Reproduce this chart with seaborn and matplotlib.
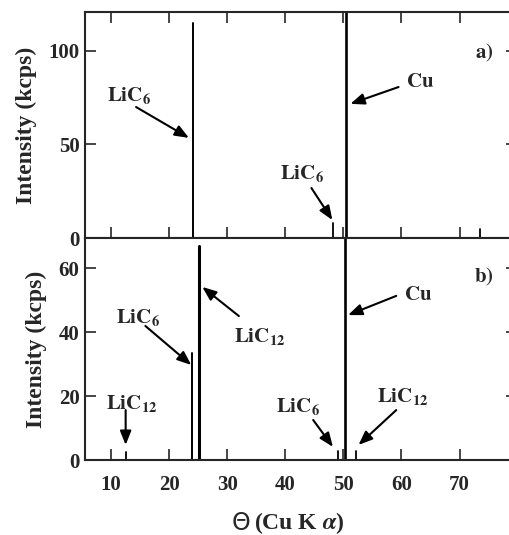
import numpy as np
import pandas as pd
import matplotlib
matplotlib.use("Agg")
import matplotlib.pyplot as plt
import seaborn as sns

# ---- data ----
theta_a = [24.1, 48.2, 50.5, 73.5]
inten_a = [115, 8, 160, 5]
width_a = ["m", "s", "l", "s"]

theta_b = [12.5, 24.0, 25.2, 49.0, 50.3, 52.1]
inten_b = [2.6, 33.5, 67, 2.7, 100, 2.7]
width_b = ["s", "m", "xl", "s", "l", "s"]

xticks = [10, 20, 30, 40, 50, 60, 70]
yticks_a = [0, 50, 100]
yticks_b = [0, 20, 40, 60]

sns.set_theme(style="ticks")
plt.rcParams["font.family"] = ["Liberation Serif", "DejaVu Serif"]
plt.rcParams["font.weight"] = "bold"
plt.rcParams["mathtext.fontset"] = "stix"

fig = plt.figure(figsize=(5.1, 5.35), dpi=100)
L, R = 85 / 510, 517 / 510
ax_a = fig.add_axes([L, 1 - 238 / 535, R - L, (238 - 12) / 535])
ax_b = fig.add_axes([L, 1 - 460 / 535, R - L, (460 - 238) / 535])

sizes = {"s": 1.3, "m": 1.4, "l": 1.9, "xl": 2.2}


def sticks(theta, inten, width):
    rows = []
    for i, (t, h, w) in enumerate(zip(theta, inten, width)):
        rows.append(dict(theta=t, I=0.0, peak=i, w=w))
        rows.append(dict(theta=t, I=h, peak=i, w=w))
    return pd.DataFrame(rows)


for ax, th, it, wd in [(ax_a, theta_a, inten_a, width_a), (ax_b, theta_b, inten_b, width_b)]:
    df = sticks(th, it, wd)
    sns.lineplot(data=df, x="theta", y="I", units="peak", estimator=None, sort=False,
                 size="w", sizes=sizes, color="black", legend=False, ax=ax)

ax_a.set_ylim(0, 120.8)
ax_b.set_ylim(0, 69.4)
for ax in (ax_a, ax_b):
    ax.set_xlim(5.5, 79.9)
    ax.set_xticks(xticks)
    for s in ax.spines.values():
        s.set_linewidth(1.5)
        s.set_visible(True)
    ax.set_ylabel("Intensity (kcps)", fontsize=17, fontweight="bold", labelpad=8)
    ax.set_xlabel("")

ax_a.set_yticks(yticks_a)
ax_b.set_yticks(yticks_b)

ax_a.tick_params(axis="both", direction="in", length=8, width=1.2, top=True, bottom=True,
                 left=True, right=True, labelbottom=False, labelsize=15, pad=4)
ax_b.tick_params(axis="both", direction="in", length=8, width=1.2, top=False, bottom=True,
                 left=True, right=True, labelbottom=True, labelsize=15, pad=4)
ax_b.tick_params(axis="x", pad=11)
for ax in (ax_a, ax_b):
    for lab in ax.get_xticklabels() + ax.get_yticklabels():
        lab.set_fontweight("bold")

# x-axis title: sans Theta followed by bold serif text
ax_b.set_xlabel(r"(Cu K $\mathbfit{\alpha}$)", fontsize=17, fontweight="bold", va="center", ha="center")
ax_b.xaxis.set_label_coords(0.501 * 427 / 432, -0.284)
ax_b.text(0.365 * 427 / 432, -0.284, "Θ", transform=ax_b.transAxes, fontsize=17, fontweight="normal",
          family="DejaVu Sans", ha="center", va="center")

akw = dict(arrowstyle="-|>,head_length=0.7,head_width=0.28", color="black", lw=1.5,
           shrinkA=0, shrinkB=0)
tkw = dict(fontsize=15, ha="center", va="center")


def label(ax, text, tx, ty, x0, y0, x1, y1):
    ax.text(tx, ty, text, **tkw)
    ax.annotate("", xy=(x1, y1), xytext=(x0, y0), arrowprops=akw)


# panel a
label(ax_a, r"$\mathbf{LiC_6}$", 13.1, 76.0, 14.3, 70, 23.4, 53.5)
label(ax_a, r"$\mathbf{Cu}$", 63.3, 83.4, 59.5, 80.7, 51.2, 71.7)
label(ax_a, r"$\mathbf{LiC_6}$", 42.9, 34.3, 44.5, 26.7, 48.1, 9.6)
ax_a.text(74.2, 99, r"$\mathbf{a)}$", **tkw)

# panel b
label(ax_b, r"$\mathbf{LiC_6}$", 14.7, 44.4, 15.9, 41.9, 23.8, 29.7)
label(ax_b, r"$\mathbf{LiC_{12}}$", 13.6, 17.8, 12.5, 15.6, 12.5, 4.7)
label(ax_b, r"$\mathbf{LiC_{12}}$", 35.6, 38.7, 32.0, 45.0, 25.7, 54.1)
label(ax_b, r"$\mathbf{Cu}$", 62.8, 51.6, 59.1, 51.3, 50.8, 45.3)
label(ax_b, r"$\mathbf{LiC_6}$", 42.2, 16.6, 44.8, 12.5, 48.2, 4.1)
label(ax_b, r"$\mathbf{LiC_{12}}$", 60.3, 20.0, 59.1, 15.6, 52.6, 4.7)
ax_b.text(74.2, 57.2, r"$\mathbf{b)}$", **tkw)

fig.savefig("out.png", dpi=100)
